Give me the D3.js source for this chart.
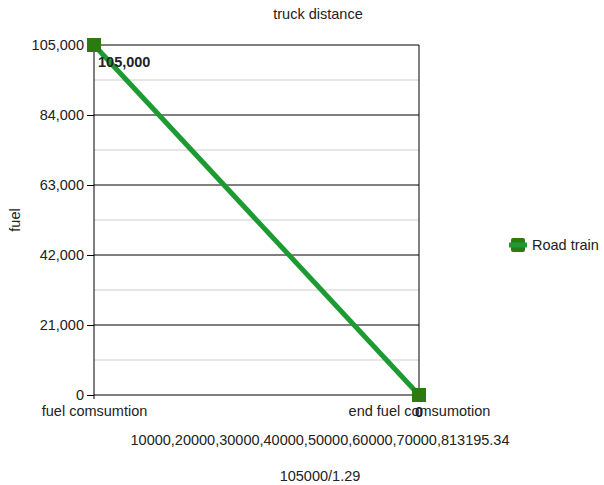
<!DOCTYPE html>
<html>
<head>
<meta charset="utf-8">
<script src="https://cdn.jsdelivr.net/npm/d3@7"></script>
<style>
  body { margin: 0; background: #fff; }
  text { font-family: Arial, "Liberation Sans", sans-serif; fill: #222; }
</style>
</head>
<body>
<svg id="chart" width="604" height="485"></svg>
<script>
const categories = ["fuel comsumtion", "end fuel comsumotion"];
const values = [105000, 0];
const seriesName = "Road train";
const yTicks = [0, 21000, 42000, 63000, 84000, 105000];
const xTitleLines = ["10000,20000,30000,40000,50000,60000,70000,813195.34", "105000/1.29"];

const width = 604;
const height = 485;
const margin = { left: 94, right: 185, top: 45, bottom: 90 };
const fontSize = "14.5px";

const svg = d3.select("#chart");

const xScale = d3.scalePoint()
  .domain(categories)
  .range([margin.left, width - margin.right]);

const yScale = d3.scaleLinear()
  .domain([0, 105000])
  .range([height - margin.bottom, margin.top]);

// minor gridlines
const minor = d3.range(0, yTicks.length - 1).map(i => (yTicks[i] + yTicks[i + 1]) / 2);
svg.append("g")
  .selectAll("line")
  .data(minor)
  .enter()
  .append("line")
  .attr("x1", margin.left)
  .attr("x2", width - margin.right)
  .attr("y1", d => yScale(d))
  .attr("y2", d => yScale(d))
  .attr("stroke", "#ccc");

// major gridlines
svg.append("g")
  .selectAll("line")
  .data(yTicks)
  .enter()
  .append("line")
  .attr("x1", margin.left)
  .attr("x2", width - margin.right)
  .attr("y1", d => yScale(d))
  .attr("y2", d => yScale(d))
  .attr("stroke", "#000");

// right border
svg.append("line")
  .attr("x1", width - margin.right)
  .attr("x2", width - margin.right)
  .attr("y1", margin.top)
  .attr("y2", height - margin.bottom)
  .attr("stroke", "#000");

// Axes
const yAxis = d3.axisLeft(yScale)
  .tickValues(yTicks)
  .tickFormat(d3.format(","))
  .tickSize(7)
  .tickPadding(3);

const gy = svg.append("g")
  .attr("transform", `translate(${margin.left}, 0)`)
  .call(yAxis);
gy.select(".domain").remove();
gy.append("line")
  .attr("x1", 0).attr("x2", 0)
  .attr("y1", margin.top)
  .attr("y2", height - margin.bottom + 4)
  .attr("stroke", "#000");
gy.selectAll("text")
  .style("font-size", fontSize)
  .style("font-family", "Arial, 'Liberation Sans', sans-serif")
  .attr("fill", "#333");

const xAxis = d3.axisBottom(xScale).tickSize(0).tickPadding(11);
const gx = svg.append("g")
  .attr("transform", `translate(0, ${height - margin.bottom})`)
  .call(xAxis);
gx.select(".domain").remove();
gx.selectAll("text")
  .style("font-size", fontSize)
  .style("font-family", "Arial, 'Liberation Sans', sans-serif")
  .attr("fill", "#333");

// Line
const dataset = categories.map((c, i) => ({ c, v: values[i] }));
const line = d3.line().x(d => xScale(d.c)).y(d => yScale(d.v));

svg.append("path")
  .datum(dataset)
  .attr("d", line)
  .attr("fill", "none")
  .attr("stroke", "#1e9a33")
  .attr("stroke-width", 5);

svg.selectAll("rect.marker")
  .data(dataset)
  .enter()
  .append("rect")
  .attr("class", "marker")
  .attr("x", d => xScale(d.c) - 7)
  .attr("y", d => yScale(d.v) - 7)
  .attr("width", 14)
  .attr("height", 14)
  .attr("fill", "#2e7a12");

// data labels
svg.append("text")
  .attr("x", xScale(categories[0]) + 4)
  .attr("y", yScale(values[0]) + 22)
  .style("font-size", fontSize)
  .style("font-weight", "bold")
  .text(d3.format(",")(values[0]));

svg.append("text")
  .attr("x", xScale(categories[1]))
  .attr("y", yScale(values[1]) + 22)
  .attr("text-anchor", "middle")
  .style("font-size", fontSize)
  .style("font-weight", "bold")
  .text(d3.format(",")(values[1]));

// Titles
svg.append("text")
  .attr("x", 318)
  .attr("y", 19)
  .attr("text-anchor", "middle")
  .style("font-size", "14.5px")
  .attr("fill", "#333")
  .text("truck distance");

svg.append("text")
  .attr("transform", `translate(20, ${yScale(52500)}) rotate(-90)`)
  .attr("text-anchor", "middle")
  .style("font-size", fontSize)
  .attr("fill", "#333")
  .text("fuel");

svg.selectAll("text.xtitle")
  .data(xTitleLines)
  .enter()
  .append("text")
  .attr("class", "xtitle")
  .attr("x", 320)
  .attr("y", (d, i) => 445 + i * 36)
  .attr("text-anchor", "middle")
  .style("font-size", fontSize)
  .attr("fill", "#333")
  .text(d => d);

// Legend
const legend = svg.append("g").attr("transform", "translate(511, 245)");
legend.append("rect")
  .attr("x", 0).attr("y", -7)
  .attr("width", 14).attr("height", 14)
  .attr("rx", 2)
  .attr("fill", "#2e7a12");
legend.append("line")
  .attr("x1", -2).attr("x2", 16)
  .attr("stroke", "#1e9a33").attr("stroke-width", 5);
legend.append("text")
  .attr("x", 21)
  .attr("y", 5)
  .style("font-size", fontSize)
  .attr("fill", "#333")
  .text(seriesName);
</script>
</body>
</html>
